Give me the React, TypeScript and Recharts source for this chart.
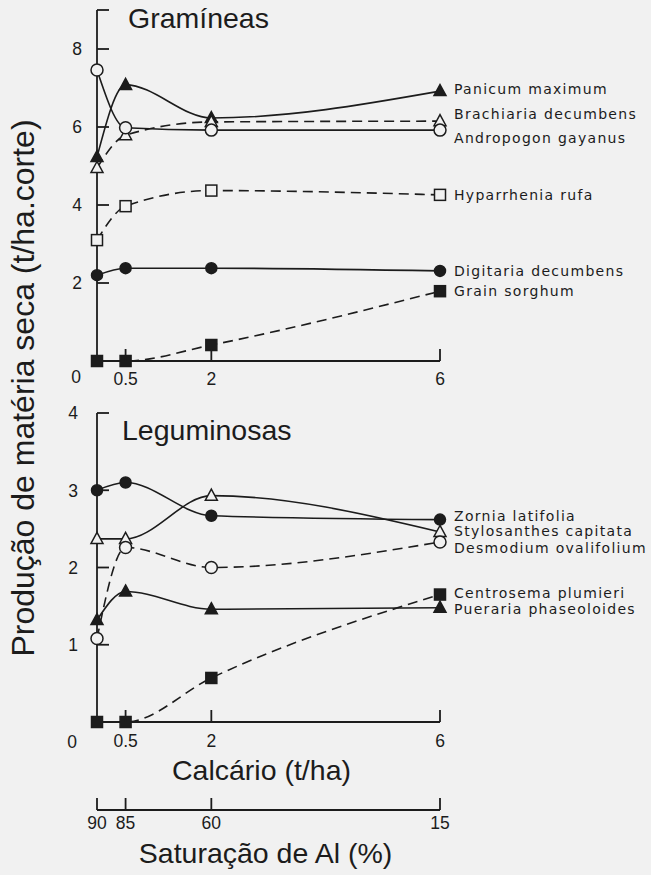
import React from 'react';
import { LineChart, Line, XAxis, YAxis, LabelList } from 'recharts';

// ---------- data ----------
const calcario = [0, 0.5, 2, 6];
const saturacaoAl = ['90', '85', '60', '15'];

const panicumMaximum = [5.23, 7.08, 6.23, 6.92];
const brachiariaDecumbens = [4.95, 5.79, 6.13, 6.15];
const andropogonGayanus = [7.46, 5.98, 5.92, 5.92];
const hyparrheniaRufa = [3.1, 3.97, 4.37, 4.26];
const digitariaDecumbens = [2.2, 2.38, 2.38, 2.31];
const grainSorghum = [0, 0, 0.41, 1.79];

const zorniaLatifolia = [3.0, 3.1, 2.67, 2.62];
const stylosanthesCapitata = [2.37, 2.37, 2.93, 2.46];
const desmodiumOvalifolium = [1.08, 2.26, 2.0, 2.33];
const centrosemaPlumieri = [0, 0, 0.57, 1.65];
const puerariaPhaseoloides = [1.32, 1.69, 1.46, 1.48];

const topYTicks = [0, 2, 4, 6, 8, 9];
const bottomYTicks = [0, 1, 2, 3, 4];
const calcarioTicks = [0.5, 2, 6];

// ---------- style ----------
const BG = '#f1f1f1';
const INK = '#1c1c1c';
const SANS = '"Liberation Sans", Arial, sans-serif';
const LETTER = '"DejaVu Sans", sans-serif';

type Marker = 'circle' | 'triangle' | 'square';
interface Series {
  key: string;
  name: string;
  values: number[];
  marker: Marker;
  filled: boolean;
  dashed: boolean;
  labelDy: number;
}

const topSeries: Series[] = [
  { key: 'panicum', name: 'Panicum maximum', values: panicumMaximum, marker: 'triangle', filled: true, dashed: false, labelDy: -2 },
  { key: 'brachiaria', name: 'Brachiaria decumbens', values: brachiariaDecumbens, marker: 'triangle', filled: false, dashed: true, labelDy: -7 },
  { key: 'andropogon', name: 'Andropogon gayanus', values: andropogonGayanus, marker: 'circle', filled: false, dashed: false, labelDy: 8 },
  { key: 'hyparrhenia', name: 'Hyparrhenia rufa', values: hyparrheniaRufa, marker: 'square', filled: false, dashed: true, labelDy: 0 },
  { key: 'digitaria', name: 'Digitaria decumbens', values: digitariaDecumbens, marker: 'circle', filled: true, dashed: false, labelDy: 0 },
  { key: 'sorghum', name: 'Grain sorghum', values: grainSorghum, marker: 'square', filled: true, dashed: true, labelDy: 0 },
];

const bottomSeries: Series[] = [
  { key: 'zornia', name: 'Zornia latifolia', values: zorniaLatifolia, marker: 'circle', filled: true, dashed: false, labelDy: -4 },
  { key: 'stylosanthes', name: 'Stylosanthes capitata', values: stylosanthesCapitata, marker: 'triangle', filled: false, dashed: false, labelDy: -1 },
  { key: 'desmodium', name: 'Desmodium ovalifolium', values: desmodiumOvalifolium, marker: 'circle', filled: false, dashed: true, labelDy: 6 },
  { key: 'centrosema', name: 'Centrosema plumieri', values: centrosemaPlumieri, marker: 'square', filled: true, dashed: true, labelDy: -2 },
  { key: 'pueraria', name: 'Pueraria phaseoloides', values: puerariaPhaseoloides, marker: 'triangle', filled: true, dashed: false, labelDy: 1.5 },
];

const buildRows = (series: Series[]) =>
  calcario.map((c, i) => {
    const row: Record<string, number> = { calcario: c };
    series.forEach((s) => {
      row[s.key] = s.values[i];
    });
    return row;
  });

const topRows = buildRows(topSeries);
const bottomRows = buildRows(bottomSeries);

// ---------- marks ----------
const makeDot = (s: Series) => (props: any) => {
  const { cx, cy, index } = props;
  const fill = s.filled ? INK : BG;
  const common = { fill, stroke: INK, strokeWidth: 1.5 };
  const k = `${s.key}-${index}`;
  if (cx == null || cy == null) return <g key={k} />;
  if (s.marker === 'circle') {
    return <circle key={k} cx={cx} cy={cy} r={s.filled ? 5.5 : 6} {...common} />;
  }
  if (s.marker === 'square') {
    return <rect key={k} x={cx - 5.5} y={cy - 5.5} width={11} height={11} {...common} />;
  }
  const pts = `${cx},${cy - 6.5} ${cx + 6},${cy + 4.5} ${cx - 6},${cy + 4.5}`;
  return <polygon key={k} points={pts} {...common} />;
};

const makeEndLabel = (s: Series) => (props: any) => {
  const { x, y, index } = props;
  if (index !== calcario.length - 1) return null;
  return (
    <text
      x={Number(x) + 14}
      y={Number(y) + s.labelDy}
      dy="0.36em"
      fontFamily={LETTER}
      fontSize={14}
      letterSpacing={1.3}
      fill={INK}
    >
      {s.name}
    </text>
  );
};

const makeYTick =
  (labelGap: number, zeroDx: number, zeroDy: number, unlabeled: number[]) => (props: any) => {
    const { x, y, payload } = props;
    const v = payload.value;
    if (v === 0) {
      return (
        <text x={x + zeroDx} y={y + zeroDy} dy="0.36em" textAnchor="middle" fontFamily={SANS} fontSize={17.5} fill={INK}>
          0
        </text>
      );
    }
    return (
      <g>
        <line x1={x} x2={x + 12} y1={y} y2={y} stroke={INK} strokeWidth={1.8} />
        {unlabeled.includes(v) ? null : (
          <text x={x - labelGap} y={y} dy="0.36em" textAnchor="end" fontFamily={SANS} fontSize={17.5} fill={INK}>
            {v}
          </text>
        )}
      </g>
    );
  };

const makeXTick = (labelDy: number, formatter: (v: number) => string) => (props: any) => {
  const { x, y, payload } = props;
  return (
    <g>
      <line x1={x} x2={x} y1={y} y2={y - 12} stroke={INK} strokeWidth={1.8} />
      <text x={x} y={y + labelDy} dy="0.36em" textAnchor="middle" fontFamily={SANS} fontSize={17.5} fill={INK}>
        {formatter(payload.value)}
      </text>
    </g>
  );
};

const renderLines = (series: Series[]) =>
  series.map((s) => (
    <Line
      key={s.key}
      dataKey={s.key}
      type="monotone"
      stroke={INK}
      strokeWidth={1.6}
      strokeDasharray={s.dashed ? '10 6' : undefined}
      dot={makeDot(s)}
      activeDot={false}
      isAnimationActive={false}
    >
      <LabelList dataKey={s.key} content={makeEndLabel(s)} />
    </Line>
  ));

const axisLine = { stroke: INK, strokeWidth: 1.8 };

export default function App() {
  return (
    <div style={{ position: 'absolute', left: 0, top: 0, width: 651, height: 875, background: BG, overflow: 'hidden' }}>
      <div style={{ position: 'absolute', left: 0, top: 0 }}>
        <LineChart width={651} height={395} data={topRows} margin={{ top: 10, right: 211, bottom: 0, left: 0 }}>
          <XAxis
            dataKey="calcario"
            type="number"
            domain={[0, 6]}
            ticks={calcarioTicks}
            height={34}
            axisLine={axisLine}
            tickLine={false}
            tickSize={0}
            tickMargin={0}
            tick={makeXTick(18, (v) => String(v))}
            interval={0}
          />
          <YAxis
            type="number"
            domain={[0, 9]}
            ticks={topYTicks}
            width={97}
            axisLine={axisLine}
            tickLine={false}
            tickSize={0}
            tickMargin={0}
            tick={makeYTick(15, -21, 16, [9])}
            interval={0}
          />
          {renderLines(topSeries)}
        </LineChart>
      </div>
      <div style={{ position: 'absolute', left: 0, top: 395 }}>
        <LineChart width={651} height={480} data={bottomRows} margin={{ top: 18, right: 211, bottom: 0, left: 0 }}>
          <XAxis
            dataKey="calcario"
            type="number"
            domain={[0, 6]}
            ticks={calcarioTicks}
            height={88}
            axisLine={axisLine}
            tickLine={false}
            tickSize={0}
            tickMargin={0}
            tick={makeXTick(19, (v) => String(v))}
            interval={0}
            label={{ value: 'Calcário (t/ha)', position: 'insideTop', offset: 38, dx: -7, fontFamily: SANS, fontSize: 28.5, fill: INK }}
          />
          <XAxis
            xAxisId="sat"
            dataKey="calcario"
            type="number"
            domain={[0, 6]}
            allowDataOverflow
            ticks={calcario}
            height={65}
            axisLine={axisLine}
            tickLine={false}
            tickSize={0}
            tickMargin={0}
            tick={makeXTick(13, (v) => saturacaoAl[calcario.indexOf(v)] ?? '')}
            interval={0}
            label={{ value: 'Saturação de Al (%)', position: 'insideTop', offset: 33, dx: -3, fontFamily: SANS, fontSize: 28.5, fill: INK }}
          />
          <YAxis
            type="number"
            domain={[0, 4]}
            ticks={bottomYTicks}
            width={97}
            axisLine={axisLine}
            tickLine={false}
            tickSize={0}
            tickMargin={0}
            tick={makeYTick(19, -25, 20, [])}
            interval={0}
          />
          {renderLines(bottomSeries)}
        </LineChart>
      </div>
      <svg width={651} height={875} style={{ position: 'absolute', left: 0, top: 0, pointerEvents: 'none' }}>
        <text x={128} y={28} fontFamily={SANS} fontSize={28.5} fill={INK}>
          Gramíneas
        </text>
        <text x={122} y={440} fontFamily={SANS} fontSize={28.5} fill={INK}>
          Leguminosas
        </text>
        <text
          transform="translate(34,388) rotate(-90)"
          textAnchor="middle"
          fontFamily={SANS}
          fontSize={32}
          fill={INK}
        >
          Produção de matéria seca (t/ha.corte)
        </text>
      </svg>
    </div>
  );
}
